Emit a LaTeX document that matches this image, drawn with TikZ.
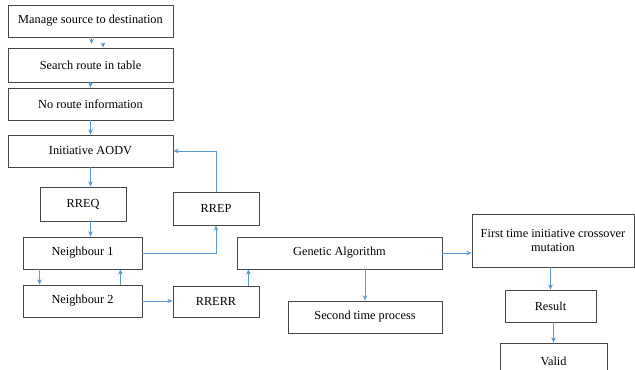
\documentclass[tikz,border=0pt]{standalone}
\usepackage{fontspec}
\setmainfont{Liberation Serif}
\usepackage{xcolor}
\usetikzlibrary{arrows.meta, positioning}

\definecolor{linkblue}{RGB}{91,155,213}
\definecolor{boxgray}{RGB}{70,70,70}

\begin{document}
\begin{tikzpicture}[x=0.03cm, y=-0.03cm,
    box/.style={draw=boxgray, line width=0.7pt, rectangle, inner sep=0pt, font=\fontsize{10.5}{12.5}\selectfont},
    flow/.style={draw=linkblue, line width=0.6pt, -{Stealth[length=4.5pt, width=4pt]}}]
    \useasboundingbox (0,0) rectangle (635,370);

    % Nodes
    \node[box, minimum width=4.95cm, minimum height=0.96cm] (src) at (90.5,21) {Manage source to destination};
    \node[box, minimum width=4.95cm, minimum height=1.02cm] (search) at (90.5,65) {Search route in table};
    \node[box, minimum width=4.95cm, minimum height=0.96cm] (noroute) at (90.5,104) {No route information};
    \node[box, minimum width=4.95cm, minimum height=0.96cm] (aodv) at (90.5,151) {Initiative AODV};
    \node[box, minimum width=2.58cm, minimum height=1.02cm] (rreq) at (83,204) {RREQ};
    \node[box, minimum width=2.58cm, minimum height=0.99cm] (rrep) at (216,208.5) {RREP};
    \node[box, minimum width=3.57cm, minimum height=0.96cm] (nb1) at (82.5,253) {Neighbour 1};
    \node[box, minimum width=3.57cm, minimum height=0.96cm] (nb2) at (82.5,301) {Neighbour 2};
    \node[box, minimum width=2.58cm, minimum height=0.93cm] (rrerr) at (216,301.5) {RRERR};
    \node[box, minimum width=6.15cm, minimum height=0.96cm] (ga) at (339.5,253) {Genetic Algorithm};
    \node[box, minimum width=4.62cm, minimum height=0.96cm] (second) at (365,317) {Second time process};
    \node[box, minimum width=4.86cm, minimum height=1.59cm, align=center] (first) at (553,240.5) {First time initiative crossover\\mutation};
    \node[box, minimum width=2.73cm, minimum height=0.96cm] (result) at (550.5,306) {Result};
    \node[box, minimum width=3.21cm, minimum height=1.11cm] (valid) at (553.5,361.5) {Valid};

    % Gap between the first two boxes
    \coordinate (gapA) at (91.5,44);
    \coordinate (gapB) at (103,43);

    % Directed edges
    \draw[flow] (src.south -| gapA) -- (gapA);
    \draw[flow] (gapB) -- (search.north -| gapB);
    \draw[flow] (search) -- (noroute);
    \draw[flow] (noroute) -- (aodv);
    \draw[flow] (aodv) -- (aodv |- rreq.north);
    \draw[flow] (rreq.south -| aodv) -- (aodv |- nb1.north);
    \draw[flow] (nb1.east) -| (rrep.south);
    \draw[flow] (rrep.north) |- (aodv.east);
    \draw[flow] ([xshift=0.51cm]nb1.south west) -- ([xshift=0.51cm]nb2.north west);
    \draw[flow] ([xshift=-0.66cm]nb2.north east) -- ([xshift=-0.66cm]nb1.south east);
    \draw[flow] (nb2.east) -- (nb2.east -| rrerr.west);
    \draw[flow] ([xshift=-0.33cm]rrerr.north east) -- ([xshift=-0.33cm]rrerr.north east |- ga.south);
    \draw[flow] (ga.south -| second) -- (second);
    \draw[flow] (ga.east) -- (ga.east -| first.west);
    \draw[flow] (first.south -| result) -- (result);
    \draw[flow] (result.south -| valid) -- (valid);
\end{tikzpicture}
\end{document}
